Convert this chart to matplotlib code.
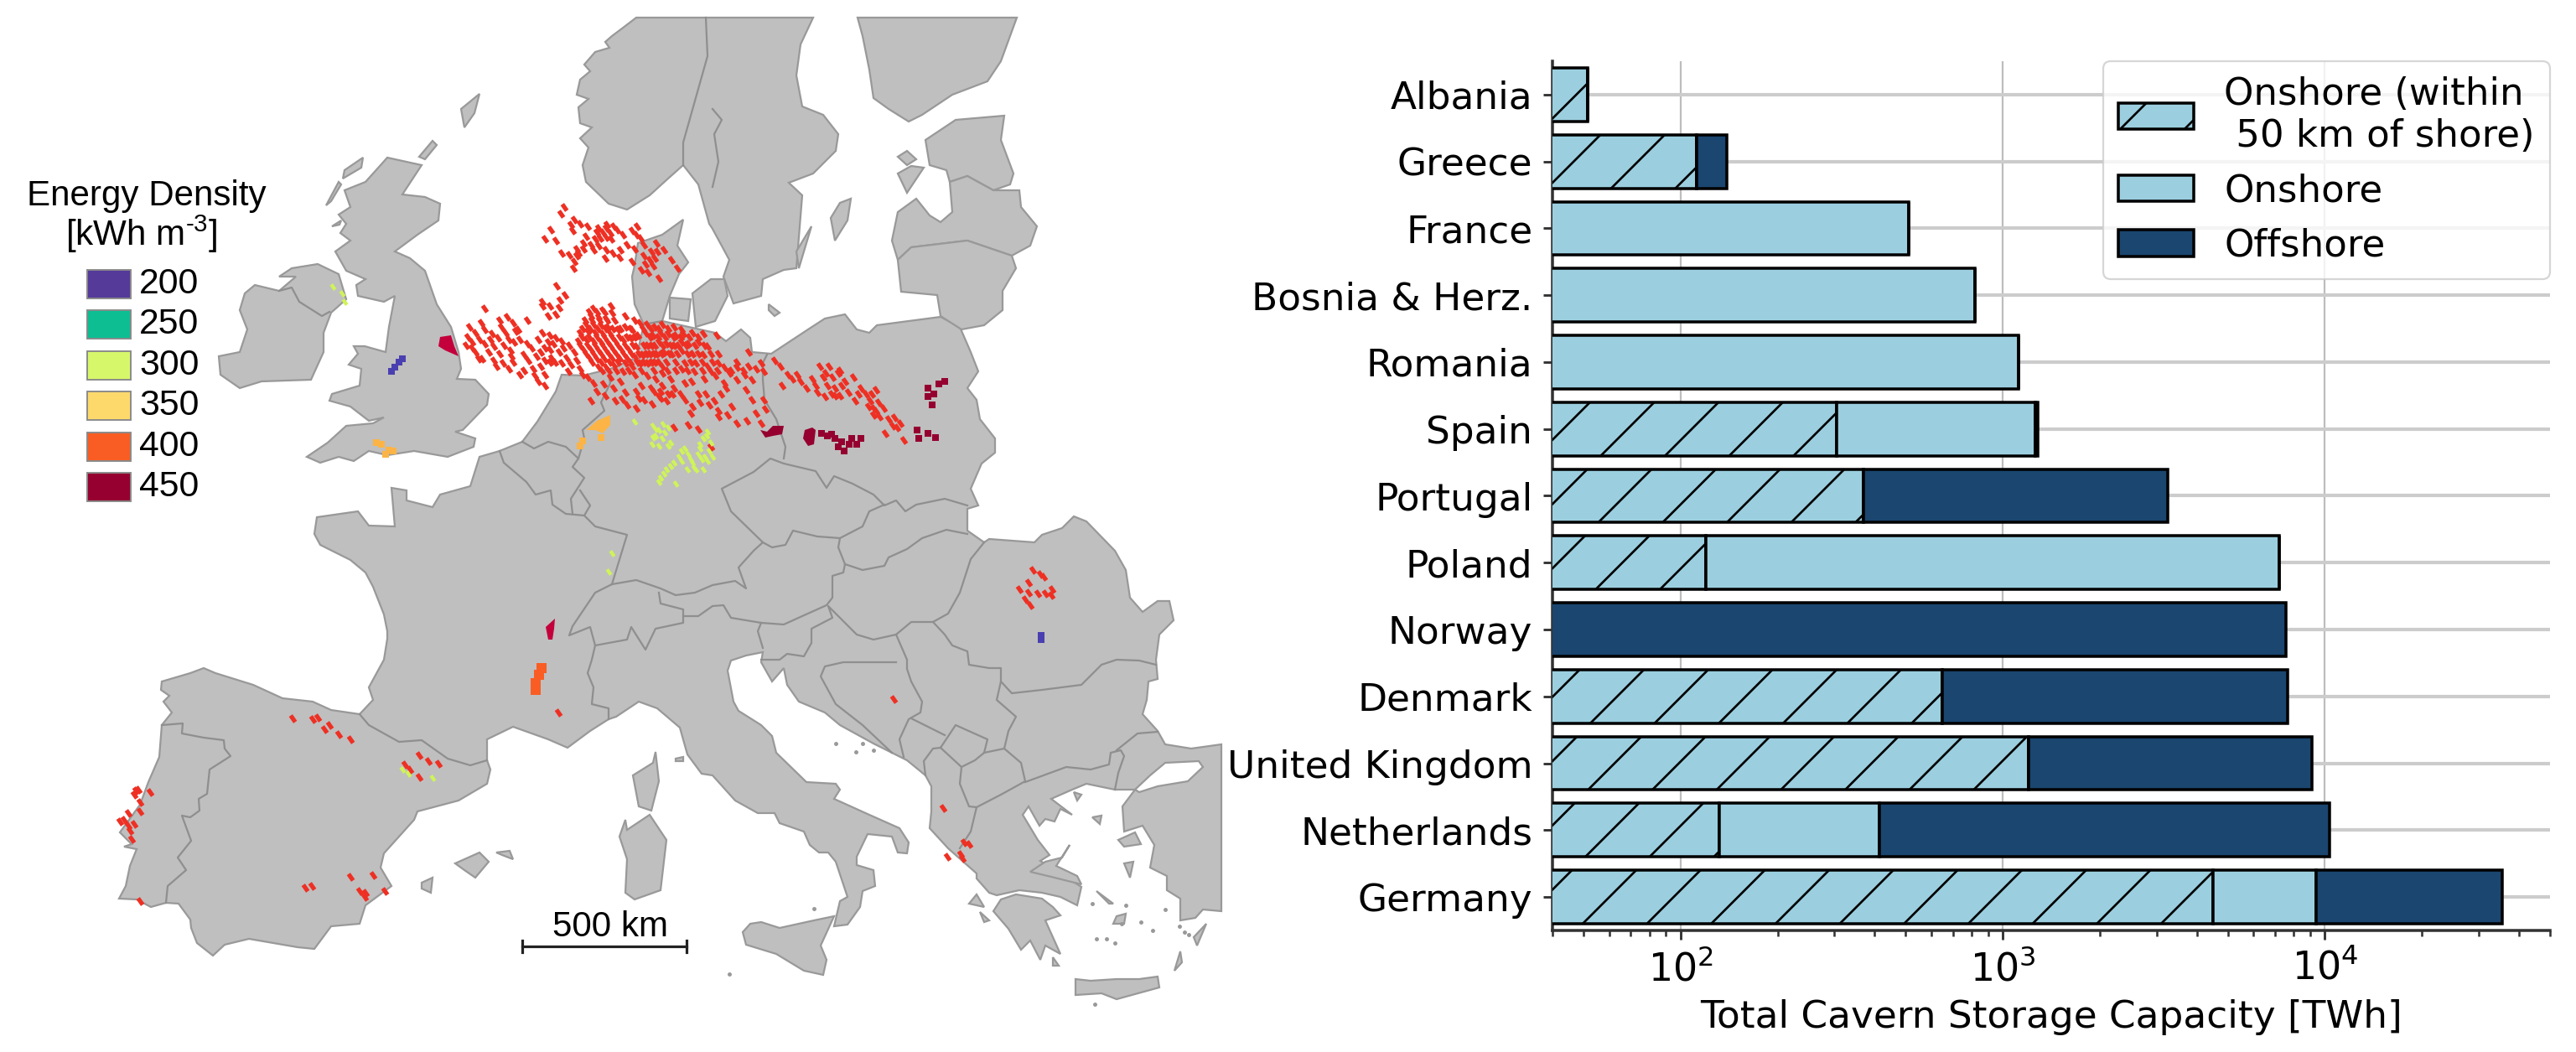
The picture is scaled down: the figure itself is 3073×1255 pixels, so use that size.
import matplotlib
matplotlib.use('Agg')
from matplotlib import pyplot as plt
from matplotlib.markers import MarkerStyle
from matplotlib.patches import Rectangle
from matplotlib.transforms import Affine2D
import numpy as np

W, H = 3073, 1255
DPI = 460

# right panel, bottom to top
countries = ['Germany', 'Netherlands', 'United Kingdom', 'Denmark', 'Norway', 'Poland', 'Portugal',
             'Spain', 'Romania', 'Bosnia & Herz.', 'France', 'Greece', 'Albania']
onshore_50km = [4490, 132, 1200, 650, 0, 120, 370, 305, 0, 0, 0, 112, 51.4]
onshore_far = [4910, 282, 0, 0, 0, 7110, 0, 960, 1122, 822, 510, 0, 0]
offshore = [26100, 9936, 7920, 7010, 7590, 0, 2888, 18, 0, 0, 0, 27, 0]

# colour key of the map
density_levels = ['200', '250', '300', '350', '400', '450']
density_colors = ['#553A9A', '#0DBE93', '#D6F76A', '#FDD96C', '#F95D24', '#950030']

# map outlines, picture pixels (x, y)
continent = [(373, 837), (395, 847), (429, 852), (445, 835), (440, 820), (458, 787), (462, 762), (462, 753),
             (458, 733), (445, 700), (436, 683), (418, 668), (382, 650), (375, 637), (378, 617), (427, 610),
             (440, 627), (471, 628), (467, 582), (485, 585), (485, 597), (516, 605), (525, 590), (561, 580),
             (572, 545), (596, 538), (623, 527), (641, 503), (663, 467), (670, 447), (696, 448), (728, 440),
             (759, 427), (768, 387), (757, 363), (754, 330), (757, 317), (761, 290), (790, 280), (815, 262),
             (808, 293), (821, 313), (810, 327), (799, 353), (790, 383), (853, 397), (866, 407), (884, 393),
             (895, 403), (897, 420), (920, 422), (964, 393), (984, 380), (1008, 375), (1022, 393), (1037, 397),
             (1046, 388), (1122, 378), (1145, 390), (1158, 420), (1167, 443), (1154, 463), (1165, 477),
             (1169, 500), (1187, 523), (1187, 540), (1171, 553), (1158, 583), (1167, 603), (1154, 607),
             (1154, 633), (1174, 647), (1180, 643), (1234, 647), (1243, 638), (1267, 630), (1281, 616),
             (1296, 622), (1330, 657), (1343, 680), (1348, 713), (1363, 730), (1381, 717), (1395, 717),
             (1400, 740), (1383, 757), (1379, 787), (1381, 810), (1370, 813), (1368, 835), (1363, 852),
             (1381, 872), (1390, 888), (1421, 893), (1457, 888), (1457, 1087), (1435, 1085), (1426, 1095),
             (1408, 1098), (1408, 1072), (1392, 1062), (1392, 1045), (1372, 1035), (1377, 1008), (1363, 985),
             (1341, 992), (1339, 962), (1354, 942), (1330, 942), (1296, 935), (1279, 942), (1254, 953),
             (1279, 972), (1265, 965), (1258, 980), (1247, 977), (1240, 985), (1227, 962), (1220, 972),
             (1238, 1002), (1252, 1020), (1241, 1027), (1290, 1058), (1285, 1080), (1265, 1070), (1243, 1065),
             (1216, 1062), (1189, 1068), (1180, 1065), (1165, 1048), (1165, 1042), (1131, 1012), (1109, 988),
             (1111, 968), (1111, 938), (1104, 925), (1082, 907), (1064, 898), (1042, 887), (1002, 865),
             (984, 850), (953, 837), (939, 817), (935, 797), (921, 813), (908, 790), (910, 778), (890, 782),
             (872, 788), (868, 800), (875, 837), (881, 848), (908, 865), (921, 878), (926, 898), (962, 933),
             (997, 935), (1002, 942), (995, 953), (1037, 972), (1073, 988), (1084, 1005), (1082, 1018),
             (1071, 1017), (1064, 998), (1035, 995), (1022, 1022), (1022, 1032), (1042, 1038), (1044, 1057),
             (1029, 1063), (1026, 1082), (1011, 1103), (995, 1105), (1002, 1075), (1011, 1070), (997, 1028),
             (988, 1017), (977, 1017), (966, 1008), (959, 992), (930, 982), (924, 970), (904, 970), (877, 955),
             (850, 925), (837, 923), (820, 900), (811, 868), (784, 845), (762, 837), (735, 855), (726, 858),
             (704, 872), (677, 892), (654, 882), (612, 867), (581, 882), (581, 907), (585, 918), (581, 935),
             (547, 955), (498, 968), (494, 978), (458, 1018), (454, 1035), (467, 1057), (436, 1080),
             (429, 1102), (395, 1105), (375, 1132), (355, 1130), (297, 1120), (268, 1127), (254, 1140),
             (235, 1125), (228, 1107), (227, 1097), (213, 1078), (198, 1077), (180, 1082), (163, 1073),
             (142, 1072), (150, 1057), (155, 1033), (163, 1013), (148, 1010), (157, 1007), (143, 993),
             (167, 960), (177, 933), (190, 903), (193, 865), (205, 850), (195, 837), (202, 830), (192, 823),
             (193, 813), (227, 803), (243, 797), (257, 803), (302, 817), (337, 833)]
scandinavia = [(759, 21), (742, 34), (730, 43), (722, 50), (727, 57), (710, 62), (697, 77), (704, 85), (692, 95),
               (688, 113), (702, 118), (690, 128), (692, 147), (706, 152), (692, 165), (702, 176), (695, 197),
               (699, 217), (726, 243), (748, 250), (775, 233), (797, 213), (815, 197), (833, 220), (846, 267),
               (850, 273), (870, 310), (863, 330), (875, 362), (908, 353), (910, 333), (935, 322), (950, 320),
               (957, 233), (941, 218), (970, 207), (997, 180), (1000, 160), (982, 137), (957, 127), (950, 90),
               (955, 53), (970, 21)]
finland = [(1023, 21), (1213, 21), (1194, 73), (1178, 97), (1136, 113), (1100, 137), (1084, 145), (1060, 130),
           (1042, 117), (1037, 83), (1029, 43)]
estonia = [(1198, 138), (1140, 143), (1104, 167), (1109, 197), (1129, 203), (1133, 217), (1154, 210), (1185, 227),
           (1205, 220), (1209, 207), (1194, 167)]
latvia = [(1133, 217), (1136, 253), (1122, 265), (1109, 257), (1093, 237), (1071, 253), (1064, 287), (1071, 310),
          (1087, 295), (1154, 287), (1207, 305), (1229, 293), (1237, 270), (1218, 247), (1216, 227), (1185, 227),
          (1154, 210)]
lithuania = [(1071, 310), (1075, 348), (1118, 352), (1122, 377), (1147, 393), (1174, 388), (1196, 370), (1196, 347),
             (1212, 320), (1207, 305), (1154, 287), (1087, 295)]
britain = [(462, 188), (503, 197), (480, 232), (507, 235), (525, 243), (523, 263), (498, 280), (471, 300),
           (489, 308), (507, 323), (521, 363), (538, 390), (547, 420), (550, 440), (545, 452), (567, 453),
           (583, 470), (581, 483), (552, 513), (543, 515), (567, 523), (565, 533), (534, 545), (494, 538),
           (462, 543), (440, 538), (422, 550), (404, 545), (382, 552), (366, 545), (391, 528), (413, 508),
           (445, 505), (458, 498), (440, 502), (418, 485), (393, 478), (396, 470), (429, 460), (431, 440),
           (416, 435), (427, 422), (422, 413), (435, 413), (460, 420), (464, 390), (471, 353), (458, 360),
           (427, 353), (425, 340), (436, 333), (413, 323), (400, 300), (418, 287), (406, 278), (413, 267),
           (404, 256), (418, 247), (411, 227), (436, 217), (454, 197)]
ireland = [(379, 315), (404, 327), (413, 357), (395, 373), (386, 397), (386, 420), (371, 453), (312, 455), (286, 463),
           (263, 447), (261, 425), (286, 420), (295, 393), (286, 370), (292, 350), (304, 340), (333, 347), (353, 330),
           (333, 330), (348, 320)]
corsica = [(782, 897), (786, 932), (777, 967), (762, 962), (755, 925), (779, 910)]
sardinia = [(775, 972), (795, 1002), (788, 1062), (757, 1073), (746, 1065), (748, 1025), (739, 998), (746, 978),
            (748, 990)]
sicily = [(895, 1102), (886, 1112), (890, 1127), (926, 1138), (959, 1158), (982, 1163), (986, 1145), (979, 1128),
          (995, 1093), (971, 1098), (930, 1107), (908, 1100)]
crete = [(1283, 1168), (1301, 1170), (1332, 1168), (1359, 1168), (1381, 1165), (1383, 1178), (1332, 1192), (1314, 1185),
         (1283, 1187)]
peloponnese = [(1212, 1067), (1243, 1072), (1256, 1082), (1265, 1092), (1247, 1098), (1265, 1138), (1247, 1128),
               (1241, 1145), (1229, 1122), (1218, 1133), (1203, 1108), (1185, 1087), (1194, 1073)]
fyn = [(799, 355), (824, 357), (821, 383), (799, 380)]
zealand = [(826, 350), (848, 333), (864, 333), (868, 353), (853, 383), (830, 390)]
small_islands = [
    [(968, 270), (953, 320), (950, 300)],  # Oland
    [(1015, 237), (1002, 242), (991, 260), (996, 287), (1011, 263)],
    [(917, 363), (930, 373), (924, 377), (917, 370)],
    [(1071, 207), (1082, 230), (1102, 200), (1087, 198)],
    [(1071, 187), (1082, 197), (1093, 190), (1082, 180)],
    [(572, 112), (550, 130), (554, 152), (566, 135)],  # Shetland
    [(516, 168), (500, 187), (507, 190), (521, 173)],
    [(433, 188), (411, 203), (409, 213), (431, 200)],
    [(404, 217), (389, 245), (395, 240), (407, 220)],
    [(407, 263), (396, 270), (405, 268)],
    [(543, 1030), (572, 1017), (583, 1028), (567, 1047), (554, 1038)],  # Balearics
    [(592, 1017), (608, 1015), (612, 1025), (599, 1020)],
    [(503, 1053), (516, 1047), (514, 1065), (503, 1060)],
    [(806, 905), (815, 903), (815, 908), (806, 908)],
    [(1276, 1008), (1267, 1023), (1247, 1028), (1229, 1040), (1250, 1045), (1290, 1055), (1285, 1045), (1260, 1033)],
    [(1165, 1067), (1156, 1078), (1174, 1082)],
    [(1169, 1088), (1180, 1098), (1174, 1100)],
    [(1256, 1142), (1263, 1152), (1256, 1152)],
    [(1334, 1002), (1354, 993), (1361, 1007), (1341, 1010)],
    [(1341, 1030), (1352, 1028), (1348, 1047)],
    [(1303, 975), (1314, 973), (1312, 983)],
    [(1281, 945), (1290, 948), (1285, 955)],
    [(1439, 1102), (1428, 1128), (1424, 1118)],
    [(1408, 1135), (1410, 1148), (1401, 1158)],
    [(1308, 1063), (1328, 1078), (1323, 1078)],
    [(1332, 1093), (1343, 1090), (1341, 1102), (1328, 1102)],
]
islets_x = [997, 1029, 1021, 1042, 870, 971, 1303, 1338, 1361, 1343, 1308, 1320, 1375, 1390, 1407, 1413, 1306, 1330, 1418]
islets_y = [887, 887, 897, 895, 1162, 1084, 1078, 1102, 1100, 1080, 1120, 1120, 1110, 1085, 1105, 1112, 1198, 1125, 1115]
marmara = [(1354, 942), (1372, 925), (1390, 910), (1430, 908), (1435, 915), (1417, 932), (1381, 938), (1359, 945)]
borders = [
    [(596, 538), (601, 552), (628, 575), (639, 590), (657, 585), (659, 602), (675, 613), (697, 615)],
    [(623, 527), (637, 535), (654, 527), (675, 533), (690, 547), (683, 557), (697, 570), (681, 595), (683, 613)],
    [(692, 585), (704, 603), (697, 615), (710, 628), (748, 638), (730, 697), (710, 707), (683, 747), (679, 758),
     (704, 748), (710, 770), (706, 787), (701, 803), (708, 820), (706, 840), (726, 845), (726, 858)],
    [(690, 547), (697, 523), (695, 513), (721, 490), (717, 480), (728, 457), (726, 447)],
    [(730, 697), (759, 692), (788, 702), (806, 710), (829, 707), (850, 698), (877, 693), (890, 702), (881, 677),
     (899, 657), (910, 647), (872, 610), (861, 583), (899, 563), (919, 547), (935, 553), (973, 562), (986, 582),
     (995, 568), (1017, 577), (1042, 590), (1055, 603), (1069, 597), (1080, 610), (1093, 602), (1127, 595), (1154, 603)],
    [(710, 770), (748, 763), (753, 748), (770, 775), (782, 750), (815, 743), (815, 727), (788, 720), (786, 707)],
    [(815, 735), (833, 735), (850, 723), (863, 722), (872, 737), (908, 743), (935, 745), (957, 735), (986, 722),
     (993, 713), (993, 687), (1006, 683), (1008, 673), (1000, 653), (1002, 642), (975, 640), (946, 633), (937, 650),
     (921, 653), (910, 647)],
    [(935, 547), (937, 533), (926, 500), (912, 477), (910, 453), (910, 433), (915, 423)],
    [(1055, 602), (1037, 610), (1029, 628), (1002, 642)],
    [(1008, 673), (1029, 680), (1055, 675), (1060, 665), (1082, 655), (1100, 642), (1129, 632), (1154, 637)],
    [(1174, 647), (1158, 667), (1145, 707), (1131, 732), (1113, 742), (1087, 742), (1069, 757), (1042, 763),
     (1022, 757), (988, 723), (993, 737), (968, 750), (968, 767), (959, 783), (939, 780), (930, 787), (908, 787)],
    [(908, 743), (904, 753), (910, 773)],
    [(1069, 790), (1006, 790), (984, 795), (979, 807), (997, 840), (1029, 865), (1064, 898)],
    [(1069, 757), (1082, 787), (1082, 798), (1087, 813), (1100, 837), (1098, 850), (1084, 858), (1073, 882), (1078, 903)],
    [(1104, 925), (1102, 908), (1113, 893), (1122, 892), (1140, 865), (1169, 878), (1178, 882), (1174, 898), (1163, 907),
     (1147, 915), (1122, 892)],
    [(1087, 857), (1127, 877)],
    [(1147, 915), (1145, 935), (1156, 962), (1165, 963), (1158, 992), (1145, 1012)],
    [(1174, 898), (1198, 893), (1218, 910), (1223, 932), (1194, 948), (1165, 963)],
    [(1223, 933), (1272, 915), (1301, 918), (1323, 912), (1325, 898), (1337, 895), (1341, 902), (1334, 922), (1330, 942)],
    [(1332, 895), (1357, 875), (1381, 873)],
    [(1198, 893), (1203, 872), (1212, 855), (1189, 835), (1194, 813), (1207, 827), (1243, 823), (1290, 817), (1314, 793),
     (1332, 787), (1359, 788), (1379, 793)],
    [(1113, 742), (1127, 757), (1136, 770), (1154, 777), (1156, 793), (1180, 797), (1194, 797), (1194, 813)],
    [(193, 865), (218, 863), (217, 875), (243, 880), (267, 883), (268, 893), (275, 902), (250, 918), (247, 947), (237, 953),
     (238, 967), (227, 975), (217, 973), (228, 1003), (212, 1023), (222, 1038), (200, 1057), (198, 1077)],
    [(429, 852), (440, 865), (476, 885), (503, 883), (534, 905), (561, 913), (581, 907)],
    [(333, 347), (348, 343), (357, 360), (384, 377), (393, 372)],
    [(842, 21), (844, 67), (815, 170), (815, 197)],
    [(768, 387), (790, 383)],
    [(850, 130), (861, 143), (852, 160), (857, 193), (850, 223)],
]

# storage sites by density class, picture pixels (x, y)
sites_400_x = [669, 673, 657, 650, 663, 685, 681, 692, 683, 701, 714, 723, 732, 719, 728, 723, 754, 759, 743, 748, 710, 699,
               696, 714, 688, 696, 670, 679, 688, 685, 684, 708, 723, 731, 740, 722, 739, 757, 768, 754, 768, 777, 781, 770,
               779, 792, 801, 808, 773, 786, 783, 664, 674, 668, 647, 647, 656, 667, 654, 663, 578, 560, 574, 567, 558, 556,
               578, 587, 598, 605, 612, 618, 629, 594, 607, 620, 629, 634, 578, 589, 567, 583, 596, 609, 625, 571, 589, 600,
               612, 607, 620, 636, 645, 650, 656, 638, 650, 647, 656, 654, 663, 670, 679, 656, 667, 676, 685, 670, 681, 692,
               695, 658, 708, 719, 729, 705, 714, 723, 730, 699, 708, 717, 725, 746, 757, 692, 701, 710, 719, 728, 737, 746,
               754, 763, 772, 781, 790, 804, 813, 690, 699, 708, 717, 725, 734, 743, 752, 761, 770, 779, 788, 797, 806, 815,
               826, 839, 855, 696, 705, 714, 723, 732, 741, 750, 759, 768, 777, 786, 795, 804, 813, 821, 833, 844, 703, 712,
               721, 730, 739, 748, 757, 766, 775, 783, 792, 801, 813, 826, 839, 857, 714, 723, 732, 746, 754, 763, 772, 781,
               790, 817, 830, 844, 857, 879, 893, 708, 701, 728, 743, 757, 772, 790, 813, 828, 848, 864, 879, 893, 908, 712,
               732, 746, 759, 777, 790, 804, 817, 853, 864, 866, 879, 897, 911, 705, 734, 748, 768, 786, 795, 797, 788, 817,
               833, 835, 846, 857, 857, 873, 897, 911, 759, 824, 879, 891, 913, 908, 902, 924, 931, 940, 951, 969, 978, 989,
               1002, 933, 982, 993, 962, 973, 987, 996, 984, 996, 1004, 1018, 1027, 1033, 1038, 1045, 1042, 1054, 1042, 1067,
               1074, 1065, 1056, 1078, 1020, 1049, 804, 833, 848, 821, 349, 373, 379, 418, 393, 387, 404, 500, 511, 523, 483,
               489, 500, 162, 160, 165, 179, 167, 153, 167, 143, 148, 157, 153, 160, 155, 167, 418, 445, 364, 372, 429, 436,
               435, 459, 1232, 1241, 1245, 1227, 1216, 1227, 1238, 1247, 1255, 1254, 1223, 1229, 1066, 1125, 1150, 1156, 1130,
               1146, 1148, 666]
sites_400_y = [255, 247, 274, 285, 287, 262, 268, 267, 275, 270, 272, 272, 270, 277, 278, 283, 275, 280, 280, 292, 285, 282,
               290, 293, 297, 297, 302, 304, 305, 312, 320, 298, 298, 302, 298, 308, 307, 297, 292, 312, 305, 300, 308, 315,
               317, 298, 310, 320, 325, 332, 290, 341, 352, 358, 360, 365, 365, 367, 377, 375, 368, 390, 385, 397, 402, 412,
               393, 398, 390, 378, 385, 393, 382, 403, 405, 405, 410, 415, 410, 413, 420, 420, 422, 418, 423, 428, 430, 433,
               432, 440, 447, 440, 437, 430, 432, 448, 460, 397, 400, 408, 403, 407, 412, 417, 420, 427, 420, 433, 435, 440,
               447, 427, 368, 370, 365, 377, 378, 380, 373, 387, 387, 388, 390, 377, 382, 397, 395, 397, 398, 398, 393, 390,
               393, 385, 387, 390, 387, 390, 393, 407, 405, 407, 408, 408, 407, 405, 403, 400, 397, 400, 397, 398, 400, 398,
               397, 398, 400, 417, 417, 418, 418, 418, 417, 417, 413, 412, 412, 408, 410, 412, 408, 410, 408, 413, 427, 428,
               428, 427, 427, 427, 425, 423, 422, 422, 420, 422, 418, 422, 423, 422, 438, 438, 435, 433, 437, 433, 433, 432,
               437, 433, 433, 437, 433, 432, 420, 457, 450, 450, 443, 447, 448, 445, 440, 443, 443, 438, 438, 437, 433, 467,
               463, 468, 467, 463, 460, 463, 457, 448, 457, 463, 453, 453, 443, 478, 478, 483, 477, 473, 478, 470, 467, 477,
               470, 480, 483, 490, 497, 485, 477, 477, 487, 493, 505, 502, 488, 505, 493, 430, 437, 447, 447, 452, 437, 437,
               442, 460, 450, 450, 463, 460, 460, 463, 473, 472, 460, 450, 463, 470, 478, 465, 487, 487, 495, 498, 505, 508,
               517, 525, 478, 497, 510, 512, 533, 507, 857, 858, 856, 882, 865, 870, 876, 901, 908, 911, 912, 918, 927, 943,
               948, 942, 945, 957, 970, 968, 980, 978, 1001, 985, 983, 991, 1075, 1046, 1044, 1059, 1057, 1063, 1065, 1070,
               1063, 680, 685, 688, 695, 703, 707, 708, 708, 703, 710, 715, 722, 834, 964, 1005, 1007, 1022, 1019, 1024, 850]
# the thick part of the field between the North Sea and the German plain
sites_400_more_x = [703, 712, 721, 698, 706, 715, 724, 733, 695, 704, 713, 722, 731, 740, 752, 767, 776, 786, 797,
                    694, 703, 712, 721, 730, 739, 748, 757, 775, 785, 793, 803, 812, 822, 833,
                    692, 701, 710, 719, 728, 737, 746, 755, 772, 781, 790, 800, 809, 818, 829, 840,
                    699, 708, 717, 726, 735, 744, 753, 762, 771, 780, 789, 798, 808, 820, 833, 848,
                    706, 717, 727, 737, 752, 760, 768, 777, 786, 795, 806, 824, 838, 850,
                    718, 726, 735, 750, 765, 780, 796, 806, 820, 838, 856, 872, 887,
                    563, 572, 563, 585, 601, 613, 575, 592, 610, 630, 625, 640, 615, 603, 596, 642, 650, 660, 672, 645,
                    662, 688, 678, 650, 642,
                    720, 740, 765, 782, 800, 825, 840, 788, 778, 802, 812, 780, 826, 842, 860, 870, 888, 902, 890, 852,
                    868, 762, 742, 722,
                    1000, 1008, 985, 975, 992, 1002, 1012, 1040, 1036, 1048, 1045, 1060, 1024, 1070, 955, 945,
                    724, 736, 712, 729, 716, 705, 690, 760, 764, 784, 775, 765]
sites_400_more_y = [372, 372, 372, 382, 382, 382, 382, 382, 392, 392, 392, 392, 392, 392, 392, 392, 392, 392, 392,
                    402, 402, 402, 402, 402, 402, 402, 402, 402, 402, 402, 402, 402, 402, 402,
                    412, 412, 412, 412, 412, 412, 412, 412, 412, 412, 412, 412, 412, 412, 412, 412,
                    422, 422, 422, 422, 422, 422, 422, 422, 422, 422, 422, 422, 422, 422, 422, 422,
                    432, 432, 432, 432, 432, 432, 432, 432, 432, 432, 432, 432, 432, 432,
                    442, 442, 442, 442, 442, 442, 442, 442, 442, 442, 442, 442, 442,
                    408, 405, 415, 405, 412, 408, 428, 437, 425, 430, 442, 425, 395, 397, 382, 405, 415, 410, 415, 420,
                    432, 430, 443, 447, 455,
                    458, 455, 460, 452, 452, 455, 452, 475, 482, 470, 470, 467, 485, 470, 470, 445, 447, 440, 465, 478,
                    495, 475, 476, 472,
                    445, 455, 445, 468, 470, 472, 468, 470, 485, 480, 490, 500, 470, 510, 455, 452,
                    268, 274, 277, 285, 284, 292, 302, 270, 284, 300, 310, 322]
sites_450_x = [1094, 1107, 1116, 1096, 1107, 1114, 1120, 1127, 1112, 1107, 987, 996, 1004, 1013, 1022, 1007, 1027, 980,
               1016, 992, 1000]
sites_450_y = [513, 517, 522, 523, 463, 470, 458, 455, 483, 473, 520, 523, 527, 530, 530, 538, 523, 517, 523, 518, 533]
sites_300_x = [757, 779, 786, 797, 779, 790, 786, 797, 844, 839, 813, 821, 833, 846, 844, 813, 804, 795, 788, 830, 839, 806,
               824, 837, 726, 730, 480, 487, 516, 397, 408, 411, 782, 791, 778, 793, 800, 782, 810, 817, 826, 835, 841,
               828, 850, 800, 792, 786, 820, 843, 848, 835]
sites_300_y = [503, 508, 513, 510, 522, 523, 532, 532, 515, 523, 538, 542, 542, 538, 550, 550, 552, 560, 570, 560, 560, 577,
               548, 548, 682, 660, 918, 923, 928, 342, 350, 360, 512, 506, 530, 516, 528, 520, 545, 535, 552, 535, 545,
               558, 545, 556, 565, 575, 560, 520, 528, 530]
sites_350_x = [692, 695, 717, 464, 469, 460, 455, 449]
sites_350_y = [532, 526, 522, 537, 538, 542, 530, 528]
sites_400_orange_x = [646, 643, 639, 639]
sites_400_orange_y = [797, 805, 815, 823]
sites_200_x = [480, 471, 467, 476, 1242, 1242]
sites_200_y = [428, 438, 443, 432, 763, 758]
# solid patches of the densest class and the Rhine field
blob_uk = [(525, 402), (538, 400), (542, 413), (547, 425), (531, 418), (523, 413)]
blob_france = [(662, 738), (661, 750), (659, 763), (654, 763), (651, 748)]
blob_border = [(907, 513), (913, 522), (922, 520), (933, 518), (935, 508), (922, 508), (915, 515)]
blob_silesia = [(960, 513), (969, 510), (973, 513), (971, 530), (964, 532), (958, 523)]
blob_rhine = [(703, 510), (712, 502), (728, 495), (728, 507), (719, 517), (710, 513), (699, 513)]

plt.rcParams['hatch.linewidth'] = 0.42
plt.rcParams['mathtext.fontset'] = 'dejavusans'
plt.rcParams['mathtext.rm'] = 'Liberation Sans'

LAND = '#BFBFBF'
COAST = '#999999'

fig = plt.figure(figsize=((W + 0.01) / DPI, (H + 0.01) / DPI), dpi=DPI)

# map panel, axes in picture pixels
ax1 = fig.add_axes([0, 0, 1, 1])
ax1.set_xlim(0, W)
ax1.set_ylim(H, 0)
ax1.axis('off')
land = [continent, scandinavia, finland, estonia, latvia, lithuania, britain, ireland, corsica, sardinia, sicily,
        crete, peloponnese, fyn, zealand] + small_islands
for poly in land:
    xs, ys = zip(*poly)
    ax1.fill(xs, ys, facecolor=LAND, edgecolor=COAST, linewidth=0.35, zorder=1)
xs, ys = zip(*marmara)
ax1.fill(xs, ys, facecolor='white', edgecolor=COAST, linewidth=0.35, zorder=2)
ax1.scatter(islets_x, islets_y, s=0.6, color=COAST, linewidths=0, zorder=2)
for line in borders:
    xs, ys = zip(*line)
    ax1.plot(xs, ys, color='#8F8F8F', linewidth=0.35, zorder=3)

dash = MarkerStyle('s', transform=Affine2D().scale(1, 0.55).rotate_deg(-55))
ax1.scatter(sites_400_x, sites_400_y, s=2.2, marker=dash, color='#EE3024', linewidths=0, zorder=4)
ax1.scatter(sites_400_more_x, sites_400_more_y, s=2.2, marker=dash, color='#EE3024', linewidths=0, zorder=4)
ax1.scatter(sites_400_orange_x, sites_400_orange_y, s=3.0, marker='s', color=density_colors[4], linewidths=0, zorder=4)
ax1.scatter(sites_450_x, sites_450_y, s=1.5, marker='s', color=density_colors[5], linewidths=0, zorder=4)
ax1.scatter(sites_350_x, sites_350_y, s=1.4, marker='s', color='#FBB445', linewidths=0, zorder=4)
ax1.scatter(sites_300_x, sites_300_y, s=1.5, marker=dash, color='#CFF35A', linewidths=0, zorder=4)
ax1.scatter(sites_200_x, sites_200_y, s=1.6, marker='s', color='#4A3FB0', linewidths=0, zorder=4)
for blob, colour in [(blob_uk, '#C4003C'), (blob_france, '#C4003C'), (blob_border, density_colors[5]),
                     (blob_silesia, density_colors[5]), (blob_rhine, '#FBB445')]:
    xs, ys = zip(*blob)
    ax1.fill(xs, ys, color=colour, linewidth=0, zorder=4)

# map key
for i, (level, colour) in enumerate(zip(density_levels, density_colors)):
    top = 322 + i * 48.4
    ax1.add_patch(Rectangle((104, top), 52, 34, facecolor=colour, edgecolor='#8A8A8A', linewidth=0.3))
    ax1.text(166, top + 17, level, family='Liberation Sans', fontsize=6.7, va='center', ha='left')
ax1.text(175, 245, 'Energy Density', family='Liberation Sans', fontsize=6.6, ha='center', va='baseline')
ax1.text(169, 293, '[kWh m$^{\\mathrm{\u2010 3}}$]', family='Liberation Sans', fontsize=6.6, ha='center', va='baseline',
         math_fontfamily='custom')

# scale bar
ax1.plot([623, 819], [1129, 1129], color='#222222', linewidth=0.5)
ax1.plot([623, 623], [1122, 1136], color='#222222', linewidth=0.5)
ax1.plot([819, 819], [1122, 1136], color='#222222', linewidth=0.5)
ax1.text(728, 1117, '500 km', family='Liberation Sans', fontsize=6.6, ha='center', va='baseline')

# bar panel
ax2 = fig.add_axes([1852 / W, 1 - 1110 / H, (3042 - 1852) / W, (1110 - 73) / H])
y = np.arange(len(countries))
near = np.array(onshore_50km, dtype=float)
far = np.array(onshore_far, dtype=float)
off = np.array(offshore, dtype=float)
LIGHT = '#9BCFDF'
DARK = '#1A466F'
ax2.barh(y, near, height=0.8, color=LIGHT, edgecolor='black', linewidth=0.55, hatch='//', zorder=3,
         label='Onshore (within\n 50 km of shore)')
ax2.barh(y, far, left=near, height=0.8, color=LIGHT, edgecolor='black', linewidth=0.55, zorder=3, label='Onshore')
ax2.barh(y, off, left=near + far, height=0.8, color=DARK, edgecolor='black', linewidth=0.55, zorder=3, label='Offshore')
ax2.set_xscale('log')
ax2.set_xlim(40, 50000)
ax2.set_ylim(-0.5, 12.5)
ax2.set_yticks(y)
ax2.set_yticklabels(countries, fontsize=7.1)
ax2.tick_params(axis='x', which='major', labelsize=7.2, length=1.7, width=0.45, color='#333333', pad=2)
ax2.tick_params(axis='x', which='minor', length=1.1, width=0.4, color='#333333')
ax2.tick_params(axis='y', length=1.7, width=0.45, color='#333333', pad=2)
ax2.set_xlabel('Total Cavern Storage Capacity [TWh]', fontsize=7.1, labelpad=2)
ax2.grid(axis='y', color='#CCCCCC', linewidth=0.65, zorder=0)
ax2.grid(axis='x', which='major', color='#BDBDBD', linewidth=0.35, zorder=0)
ax2.set_axisbelow(True)
for side in ['top', 'right']:
    ax2.spines[side].set_visible(False)
for side in ['left', 'bottom']:
    ax2.spines[side].set_linewidth(0.55)
    ax2.spines[side].set_color('#333333')
leg = ax2.legend(loc='upper right', fontsize=7.05, borderaxespad=0)
leg.get_frame().set_linewidth(0.35)

fig.savefig('out.png', dpi=DPI)
